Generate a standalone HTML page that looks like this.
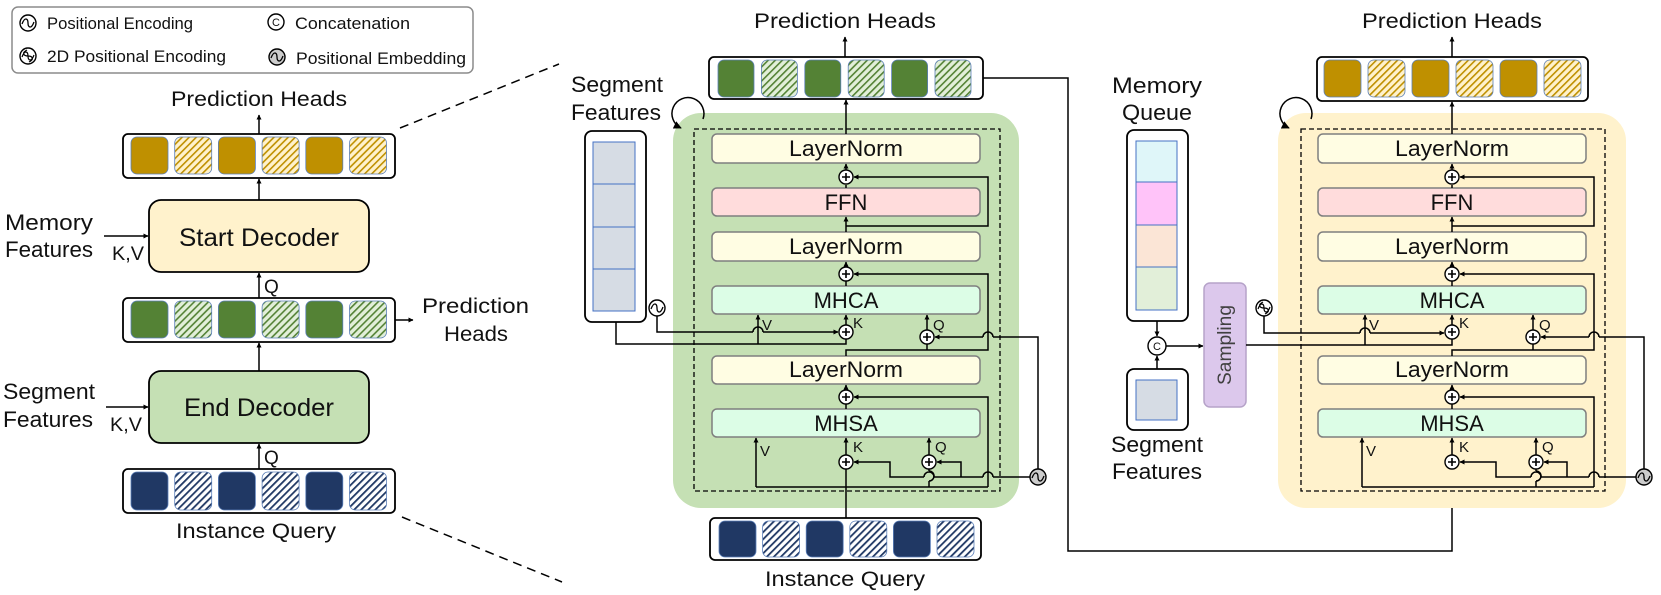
<!DOCTYPE html>
<html><head><meta charset="utf-8"><style>
html,body{margin:0;padding:0;background:#fff}
svg{display:block}
text{font-family:"Liberation Sans",sans-serif;fill:#111}
</style></head><body>
<svg width="1661" height="595" viewBox="0 0 1661 595" xmlns="http://www.w3.org/2000/svg">
<defs>
<marker id="ah" viewBox="0 0 10 10" refX="9" refY="5" markerWidth="5" markerHeight="5" markerUnits="userSpaceOnUse" orient="auto"><path d="M0,0 L10,5 L0,10 z" fill="#000"/></marker>
<marker id="ahb" viewBox="0 0 10 10" refX="9" refY="5" markerWidth="8" markerHeight="8" markerUnits="userSpaceOnUse" orient="auto"><path d="M0,0 L10,5 L0,10 z" fill="#000"/></marker>
<pattern id="hG" width="5" height="5" patternUnits="userSpaceOnUse" patternTransform="rotate(45)"><rect width="5" height="5" fill="#fff2cc"/><rect width="1.6" height="5" fill="#bf9000"/></pattern>
<pattern id="hN" width="5" height="5" patternUnits="userSpaceOnUse" patternTransform="rotate(45)"><rect width="5" height="5" fill="#fff"/><rect width="1.8" height="5" fill="#203864"/></pattern>
<pattern id="hE" width="5" height="5" patternUnits="userSpaceOnUse" patternTransform="rotate(45)"><rect width="5" height="5" fill="#e2efd9"/><rect width="1.6" height="5" fill="#548235"/></pattern>
<g id="pe"><circle r="8" fill="#fff" stroke="#000" stroke-width="1.4"/><path d="M-6,1 C-3,-7 0,-4 0,0 C0,4 3,7 6,-1" fill="none" stroke="#000" stroke-width="1.3"/></g>
<g id="pem"><circle r="8" fill="#ccc" stroke="#000" stroke-width="1.4"/><path d="M-6,1 C-3,-7 0,-4 0,0 C0,4 3,7 6,-1" fill="none" stroke="#000" stroke-width="1.3"/></g>
<g id="pe2"><circle r="8" fill="#fff" stroke="#000" stroke-width="1.4"/><path d="M-6,1 C-3,-7 0,-4 0,0 C0,4 3,7 6,-1 M-1,-6 C-7,-3 -4,0 0,0 C4,0 7,3 1,6" fill="none" stroke="#000" stroke-width="1.2"/></g>
<g id="plus"><circle r="7" fill="#fff" stroke="#000" stroke-width="1.4"/><path d="M-4,0 H4 M0,-4 V4" stroke="#000" stroke-width="1.6"/></g>
</defs>

<!-- LEGEND -->
<rect x="12" y="7" width="461" height="66" rx="6" fill="#fff" stroke="#8c8c8c" stroke-width="1.5"/>
<use href="#pe" x="28" y="23"/>
<use href="#pe2" x="28" y="56"/>
<g transform="translate(276,22)"><circle r="8" fill="#fff" stroke="#000" stroke-width="1.4"/><text x="0" y="4" font-size="11" text-anchor="middle">C</text></g>
<use href="#pem" x="277" y="57"/>
<text x="47" y="29" font-size="17" textLength="146" lengthAdjust="spacingAndGlyphs">Positional Encoding</text>
<text x="47" y="62" font-size="17" textLength="179" lengthAdjust="spacingAndGlyphs">2D Positional Encoding</text>
<text x="295" y="29" font-size="17" textLength="115" lengthAdjust="spacingAndGlyphs">Concatenation</text>
<text x="296" y="64" font-size="17" textLength="170" lengthAdjust="spacingAndGlyphs">Positional Embedding</text>

<!-- LEFT -->
<text x="259" y="106" font-size="21" text-anchor="middle" textLength="176" lengthAdjust="spacingAndGlyphs">Prediction Heads</text>
<line x1="259" y1="134" x2="259" y2="115" stroke="#000" stroke-width="1.5" marker-end="url(#ah)"/>
<rect x="123" y="134" width="272" height="44" rx="5" fill="#fff" stroke="#000" stroke-width="1.8"/>
<g stroke="#5b7fb9" stroke-width="0.8">
<rect x="131" y="137" width="37" height="37" rx="6" fill="#bf9000"/><rect x="174.7" y="137" width="37" height="37" rx="6" fill="url(#hG)"/><rect x="218.4" y="137" width="37" height="37" rx="6" fill="#bf9000"/><rect x="262.1" y="137" width="37" height="37" rx="6" fill="url(#hG)"/><rect x="305.8" y="137" width="37" height="37" rx="6" fill="#bf9000"/><rect x="349.5" y="137" width="37" height="37" rx="6" fill="url(#hG)"/>
</g>
<line x1="259" y1="200" x2="259" y2="179" stroke="#000" stroke-width="1.5" marker-end="url(#ah)"/>
<rect x="149" y="200" width="220" height="72" rx="12" fill="#fff2cc" stroke="#000" stroke-width="1.8"/>
<text x="259" y="246" font-size="25" text-anchor="middle" textLength="160" lengthAdjust="spacingAndGlyphs">Start Decoder</text>
<text x="5" y="230" font-size="22" textLength="88" lengthAdjust="spacingAndGlyphs">Memory</text>
<text x="5" y="257" font-size="22" textLength="88" lengthAdjust="spacingAndGlyphs">Features</text>
<line x1="104" y1="236" x2="148" y2="236" stroke="#000" stroke-width="1.5" marker-end="url(#ah)"/>
<text x="112" y="260" font-size="19" textLength="32" lengthAdjust="spacingAndGlyphs">K,V</text>
<line x1="259" y1="298" x2="259" y2="273" stroke="#000" stroke-width="1.5" marker-end="url(#ah)"/>
<text x="264" y="293" font-size="19">Q</text>

<rect x="123" y="298" width="272" height="44" rx="5" fill="#fff" stroke="#000" stroke-width="1.8"/>
<g stroke="#5b7fb9" stroke-width="0.8">
<rect x="131" y="301" width="37" height="37" rx="6" fill="#548235"/><rect x="174.7" y="301" width="37" height="37" rx="6" fill="url(#hE)"/><rect x="218.4" y="301" width="37" height="37" rx="6" fill="#548235"/><rect x="262.1" y="301" width="37" height="37" rx="6" fill="url(#hE)"/><rect x="305.8" y="301" width="37" height="37" rx="6" fill="#548235"/><rect x="349.5" y="301" width="37" height="37" rx="6" fill="url(#hE)"/>
</g>
<line x1="395" y1="320" x2="413" y2="320" stroke="#000" stroke-width="1.5" marker-end="url(#ah)"/>
<text x="422" y="313" font-size="21" textLength="107" lengthAdjust="spacingAndGlyphs">Prediction</text>
<text x="476" y="341" font-size="21" text-anchor="middle" textLength="64" lengthAdjust="spacingAndGlyphs">Heads</text>
<line x1="259" y1="371" x2="259" y2="343" stroke="#000" stroke-width="1.5" marker-end="url(#ah)"/>
<rect x="149" y="371" width="220" height="72" rx="12" fill="#c5e0b4" stroke="#000" stroke-width="1.8"/>
<text x="259" y="416" font-size="25" text-anchor="middle" textLength="150" lengthAdjust="spacingAndGlyphs">End Decoder</text>
<text x="3" y="399" font-size="22" textLength="92" lengthAdjust="spacingAndGlyphs">Segment</text>
<text x="3" y="427" font-size="22" textLength="90" lengthAdjust="spacingAndGlyphs">Features</text>
<line x1="106" y1="407" x2="148" y2="407" stroke="#000" stroke-width="1.5" marker-end="url(#ah)"/>
<text x="110" y="431" font-size="19" textLength="32" lengthAdjust="spacingAndGlyphs">K,V</text>
<line x1="259" y1="469" x2="259" y2="444" stroke="#000" stroke-width="1.5" marker-end="url(#ah)"/>
<text x="264" y="464" font-size="19">Q</text>
<rect x="123" y="469" width="272" height="44" rx="5" fill="#fff" stroke="#000" stroke-width="1.8"/>
<g stroke="#5b7fb9" stroke-width="0.8">
<rect x="131" y="472" width="37" height="38" rx="6" fill="#203864"/><rect x="174.7" y="472" width="37" height="38" rx="6" fill="url(#hN)"/><rect x="218.4" y="472" width="37" height="38" rx="6" fill="#203864"/><rect x="262.1" y="472" width="37" height="38" rx="6" fill="url(#hN)"/><rect x="305.8" y="472" width="37" height="38" rx="6" fill="#203864"/><rect x="349.5" y="472" width="37" height="38" rx="6" fill="url(#hN)"/>
</g>
<text x="256" y="538" font-size="21" text-anchor="middle" textLength="160" lengthAdjust="spacingAndGlyphs">Instance Query</text>
<line x1="400" y1="128" x2="559" y2="64" stroke="#000" stroke-width="1.5" stroke-dasharray="9,6"/>
<line x1="402" y1="517" x2="562" y2="582" stroke="#000" stroke-width="1.5" stroke-dasharray="9,6"/>

<!-- MIDDLE -->
<rect x="673" y="113" width="346" height="395" rx="28" fill="#c5e0b4"/>
<rect x="694" y="129" width="306" height="362" fill="none" stroke="#000" stroke-width="1.3" stroke-dasharray="5,3"/>
<text x="845" y="28" font-size="21" text-anchor="middle" textLength="182" lengthAdjust="spacingAndGlyphs">Prediction Heads</text>
<line x1="845" y1="57" x2="845" y2="37" stroke="#000" stroke-width="1.5" marker-end="url(#ah)"/>
<rect x="709" y="57" width="274" height="42" rx="5" fill="#fff" stroke="#000" stroke-width="1.8"/>
<g stroke="#5b7fb9" stroke-width="0.8">
<rect x="718" y="60" width="36" height="37" rx="6" fill="#548235"/><rect x="761.4" y="60" width="36" height="37" rx="6" fill="url(#hE)"/><rect x="804.8" y="60" width="36" height="37" rx="6" fill="#548235"/><rect x="848.2" y="60" width="36" height="37" rx="6" fill="url(#hE)"/><rect x="891.6" y="60" width="36" height="37" rx="6" fill="#548235"/><rect x="935" y="60" width="36" height="37" rx="6" fill="url(#hE)"/>
</g>
<text x="571" y="92" font-size="22" textLength="92" lengthAdjust="spacingAndGlyphs">Segment</text>
<text x="571" y="120" font-size="22" textLength="90" lengthAdjust="spacingAndGlyphs">Features</text>
<path d="M703,119 A16,16 0 1 0 681,128" fill="none" stroke="#000" stroke-width="1.5" marker-end="url(#ahb)"/>
<rect x="585" y="131" width="61" height="191" rx="7" fill="#fff" stroke="#000" stroke-width="1.8"/>
<g fill="#d6dce4" stroke="#4472c4" stroke-width="1"><rect x="593" y="142" width="42" height="42"/><rect x="593" y="184" width="42" height="43"/><rect x="593" y="227" width="42" height="42"/><rect x="593" y="269" width="42" height="42"/></g>

<g stroke="#7f7f7f" stroke-width="1.5">
<rect x="712" y="134" width="268" height="29" rx="5" fill="#fffde3"/>
<rect x="712" y="188" width="268" height="28" rx="5" fill="#ffdcdc"/>
<rect x="712" y="232" width="268" height="29" rx="5" fill="#fffde3"/>
<rect x="712" y="286" width="268" height="28" rx="5" fill="#dcfde6"/>
<rect x="712" y="356" width="268" height="28" rx="5" fill="#fffde3"/>
<rect x="712" y="409" width="268" height="28" rx="5" fill="#dcfde6"/>
</g>
<g font-size="22" text-anchor="middle">
<text x="846" y="156" textLength="114" lengthAdjust="spacingAndGlyphs">LayerNorm</text>
<text x="846" y="210">FFN</text>
<text x="846" y="254" textLength="114" lengthAdjust="spacingAndGlyphs">LayerNorm</text>
<text x="846" y="308">MHCA</text>
<text x="846" y="377" textLength="114" lengthAdjust="spacingAndGlyphs">LayerNorm</text>
<text x="846" y="431">MHSA</text>
</g>
<g stroke="#000" stroke-width="1.5" fill="none">
<line x1="846" y1="134" x2="846" y2="100" marker-end="url(#ah)"/>
<line x1="846" y1="170" x2="846" y2="164" marker-end="url(#ah)"/>
<line x1="846" y1="188" x2="846" y2="185" />
<line x1="846" y1="232" x2="846" y2="217" marker-end="url(#ah)"/>
<polyline points="846,226 988,226 988,177 854,177" marker-end="url(#ah)"/>
<line x1="846" y1="267" x2="846" y2="262" marker-end="url(#ah)"/>
<line x1="846" y1="286" x2="846" y2="281"/>
<polyline points="846,356 846,350 988,350 988,274 854,274" marker-end="url(#ah)"/>
<line x1="846" y1="325" x2="846" y2="315" marker-end="url(#ah)"/>
<line x1="758" y1="344" x2="758" y2="315" marker-end="url(#ah)"/>
<line x1="927" y1="330" x2="927" y2="315" marker-end="url(#ah)"/>
<line x1="927" y1="350" x2="927" y2="344"/>
<polyline points="657,316 657,332 753,332 M763,332 838,332" />
<path d="M753,332 A5,5 0 0 1 763,332"/>
<line x1="763" y1="332" x2="838" y2="332" marker-end="url(#ah)"/>
<polyline points="616,322 616,344 846,344 846,339"/>
<polyline points="1038,469 1038,337 993,337"/>
<path d="M993,337 A5,5 0 0 0 983,337"/>
<line x1="983" y1="337" x2="935" y2="337" marker-end="url(#ah)"/>
<line x1="846" y1="390" x2="846" y2="385" marker-end="url(#ah)"/>
<line x1="846" y1="409" x2="846" y2="404"/>
<polyline points="988,487 988,397 854,397" marker-end="url(#ah)"/>
<line x1="846" y1="455" x2="846" y2="438" marker-end="url(#ah)"/>
<polyline points="756,487 756,438" marker-end="url(#ah)"/>
<line x1="929" y1="455" x2="929" y2="438" marker-end="url(#ah)"/>
<polyline points="756,487 988,487"/>
<line x1="929" y1="487" x2="929" y2="481"/>
<path d="M929,481 A5,5 0 0 0 929,471" />
<line x1="929" y1="471" x2="929" y2="469"/>
<polyline points="1030,477 993,477"/>
<path d="M993,477 A5,5 0 0 0 983,477"/>
<polyline points="983,477 934,477"/>
<path d="M934,477 A5,5 0 0 0 924,477"/>
<polyline points="924,477 890,477 890,462 854,462" marker-end="url(#ah)"/>
<polyline points="961,477 961,462 937,462" marker-end="url(#ah)"/>
<line x1="846" y1="518" x2="846" y2="469"/>
<polyline points="983,78 1068,78 1068,551 1452,551 1452,470" marker-end="url(#ah)"/>
</g>
<use href="#plus" x="846" y="177"/><use href="#plus" x="846" y="274"/><use href="#plus" x="846" y="332"/><use href="#plus" x="927" y="337"/>
<use href="#plus" x="846" y="397"/><use href="#plus" x="846" y="462"/><use href="#plus" x="929" y="462"/>
<use href="#pe" x="657" y="308"/>
<use href="#pem" x="1038" y="477"/>
<g font-size="15"><text x="762" y="330">V</text><text x="853" y="328">K</text><text x="933" y="330">Q</text>
<text x="760" y="456">V</text><text x="853" y="452">K</text><text x="935" y="452">Q</text></g>
<rect x="710" y="518" width="271" height="42" rx="5" fill="#fff" stroke="#000" stroke-width="1.8"/>
<g stroke="#5b7fb9" stroke-width="0.8">
<rect x="719" y="521" width="37" height="36" rx="6" fill="#203864"/><rect x="762.6" y="521" width="37" height="36" rx="6" fill="url(#hN)"/><rect x="806.2" y="521" width="37" height="36" rx="6" fill="#203864"/><rect x="849.8" y="521" width="37" height="36" rx="6" fill="url(#hN)"/><rect x="893.4" y="521" width="37" height="36" rx="6" fill="#203864"/><rect x="937" y="521" width="37" height="36" rx="6" fill="url(#hN)"/>
</g>
<text x="845" y="586" font-size="21" text-anchor="middle" textLength="160" lengthAdjust="spacingAndGlyphs">Instance Query</text>

<!-- RIGHT -->
<text x="1157" y="93" font-size="22" text-anchor="middle" textLength="90" lengthAdjust="spacingAndGlyphs">Memory</text>
<text x="1157" y="120" font-size="22" text-anchor="middle" textLength="70" lengthAdjust="spacingAndGlyphs">Queue</text>
<rect x="1127" y="130" width="61" height="191" rx="7" fill="#fff" stroke="#000" stroke-width="1.8"/>
<g stroke="#4472c4" stroke-width="1"><rect x="1136" y="141" width="41" height="41" fill="#dff6f9"/><rect x="1136" y="182" width="41" height="43" fill="#ffc3f9"/><rect x="1136" y="225" width="41" height="42" fill="#fbe5d6"/><rect x="1136" y="267" width="41" height="43" fill="#e2efd9"/></g>
<rect x="1127" y="369" width="61" height="61" rx="7" fill="#fff" stroke="#000" stroke-width="1.8"/>
<rect x="1136" y="380" width="41" height="40" fill="#d6dce4" stroke="#4472c4" stroke-width="1"/>
<text x="1157" y="452" font-size="22" text-anchor="middle" textLength="92" lengthAdjust="spacingAndGlyphs">Segment</text>
<text x="1157" y="479" font-size="22" text-anchor="middle" textLength="90" lengthAdjust="spacingAndGlyphs">Features</text>
<g stroke="#000" stroke-width="1.5"><line x1="1157" y1="321" x2="1157" y2="336" marker-end="url(#ah)"/><line x1="1157" y1="369" x2="1157" y2="356" marker-end="url(#ah)"/><line x1="1166" y1="346" x2="1203" y2="346" marker-end="url(#ah)"/></g>
<g transform="translate(1157,346)"><circle r="9" fill="#fff" stroke="#000" stroke-width="1.4"/><text x="0" y="4" font-size="11" text-anchor="middle">C</text></g>
<rect x="1204" y="283" width="42" height="124" rx="6" fill="#dcc8ec" stroke="#b6a3c9" stroke-width="1.5"/>
<text transform="translate(1231,345) rotate(-90)" font-size="19" text-anchor="middle" fill="#444" style="fill:#404040" textLength="80" lengthAdjust="spacingAndGlyphs">Sampling</text>

<rect x="1278" y="113" width="348" height="395" rx="28" fill="#fff2cc"/>
<rect x="1301" y="129" width="304" height="362" fill="none" stroke="#000" stroke-width="1.3" stroke-dasharray="5,3"/>
<text x="1452" y="28" font-size="21" text-anchor="middle" textLength="180" lengthAdjust="spacingAndGlyphs">Prediction Heads</text>
<line x1="1452" y1="57" x2="1452" y2="37" stroke="#000" stroke-width="1.5" marker-end="url(#ah)"/>
<rect x="1317" y="57" width="271" height="44" rx="5" fill="#fff" stroke="#000" stroke-width="1.8"/>
<g stroke="#5b7fb9" stroke-width="0.8">
<rect x="1324" y="60" width="37" height="37" rx="6" fill="#bf9000"/><rect x="1368" y="60" width="37" height="37" rx="6" fill="url(#hG)"/><rect x="1412" y="60" width="37" height="37" rx="6" fill="#bf9000"/><rect x="1456" y="60" width="37" height="37" rx="6" fill="url(#hG)"/><rect x="1500" y="60" width="37" height="37" rx="6" fill="#bf9000"/><rect x="1544" y="60" width="37" height="37" rx="6" fill="url(#hG)"/>
</g>
<path d="M1311,119 A16,16 0 1 0 1289,128" fill="none" stroke="#000" stroke-width="1.5" marker-end="url(#ahb)"/>
<g stroke="#7f7f7f" stroke-width="1.5">
<rect x="1318" y="134" width="268" height="29" rx="5" fill="#fffde3"/>
<rect x="1318" y="188" width="268" height="28" rx="5" fill="#ffdcdc"/>
<rect x="1318" y="232" width="268" height="29" rx="5" fill="#fffde3"/>
<rect x="1318" y="286" width="268" height="28" rx="5" fill="#dcfde6"/>
<rect x="1318" y="356" width="268" height="28" rx="5" fill="#fffde3"/>
<rect x="1318" y="409" width="268" height="28" rx="5" fill="#dcfde6"/>
</g>
<g font-size="22" text-anchor="middle">
<text x="1452" y="156" textLength="114" lengthAdjust="spacingAndGlyphs">LayerNorm</text>
<text x="1452" y="210">FFN</text>
<text x="1452" y="254" textLength="114" lengthAdjust="spacingAndGlyphs">LayerNorm</text>
<text x="1452" y="308">MHCA</text>
<text x="1452" y="377" textLength="114" lengthAdjust="spacingAndGlyphs">LayerNorm</text>
<text x="1452" y="431">MHSA</text>
</g>
<g stroke="#000" stroke-width="1.5" fill="none">
<line x1="1452" y1="134" x2="1452" y2="102" marker-end="url(#ah)"/>
<line x1="1452" y1="170" x2="1452" y2="164" marker-end="url(#ah)"/>
<line x1="1452" y1="188" x2="1452" y2="185"/>
<line x1="1452" y1="232" x2="1452" y2="217" marker-end="url(#ah)"/>
<polyline points="1452,226 1594,226 1594,177 1460,177" marker-end="url(#ah)"/>
<line x1="1452" y1="267" x2="1452" y2="262" marker-end="url(#ah)"/>
<line x1="1452" y1="286" x2="1452" y2="281"/>
<polyline points="1452,356 1452,350 1594,350 1594,274 1460,274" marker-end="url(#ah)"/>
<line x1="1452" y1="325" x2="1452" y2="315" marker-end="url(#ah)"/>
<line x1="1365" y1="345" x2="1365" y2="315" marker-end="url(#ah)"/>
<line x1="1533" y1="330" x2="1533" y2="315" marker-end="url(#ah)"/>
<line x1="1533" y1="350" x2="1533" y2="344"/>
<polyline points="1264,316 1264,333 1360,333"/>
<path d="M1360,333 A5,5 0 0 1 1370,333"/>
<line x1="1370" y1="333" x2="1444" y2="333" marker-end="url(#ah)"/>
<polyline points="1246,345 1452,345 1452,339"/>
<polyline points="1644,469 1644,337 1599,337"/>
<path d="M1599,337 A5,5 0 0 0 1589,337"/>
<line x1="1589" y1="337" x2="1541" y2="337" marker-end="url(#ah)"/>
<line x1="1452" y1="390" x2="1452" y2="385" marker-end="url(#ah)"/>
<line x1="1452" y1="409" x2="1452" y2="404"/>
<polyline points="1594,487 1594,397 1460,397" marker-end="url(#ah)"/>
<line x1="1452" y1="455" x2="1452" y2="438" marker-end="url(#ah)"/>
<line x1="1362" y1="487" x2="1362" y2="438" marker-end="url(#ah)"/>
<line x1="1536" y1="455" x2="1536" y2="438" marker-end="url(#ah)"/>
<polyline points="1362,487 1594,487"/>
<line x1="1536" y1="487" x2="1536" y2="481"/>
<path d="M1536,481 A5,5 0 0 0 1536,471"/>
<line x1="1536" y1="471" x2="1536" y2="469"/>
<polyline points="1636,477 1599,477"/>
<path d="M1599,477 A5,5 0 0 0 1589,477"/>
<polyline points="1589,477 1541,477"/>
<path d="M1541,477 A5,5 0 0 0 1531,477"/>
<polyline points="1531,477 1496,477 1496,462 1460,462" marker-end="url(#ah)"/>
<polyline points="1567,477 1567,462 1544,462" marker-end="url(#ah)"/>
</g>
<use href="#plus" x="1452" y="177"/><use href="#plus" x="1452" y="274"/><use href="#plus" x="1452" y="332"/><use href="#plus" x="1533" y="337"/>
<use href="#plus" x="1452" y="397"/><use href="#plus" x="1452" y="462"/><use href="#plus" x="1536" y="462"/>
<use href="#pe2" x="1264" y="308"/>
<use href="#pem" x="1644" y="477"/>
<g font-size="15"><text x="1369" y="330">V</text><text x="1459" y="328">K</text><text x="1539" y="330">Q</text>
<text x="1366" y="456">V</text><text x="1459" y="452">K</text><text x="1542" y="452">Q</text></g>
</svg>
</body></html>
